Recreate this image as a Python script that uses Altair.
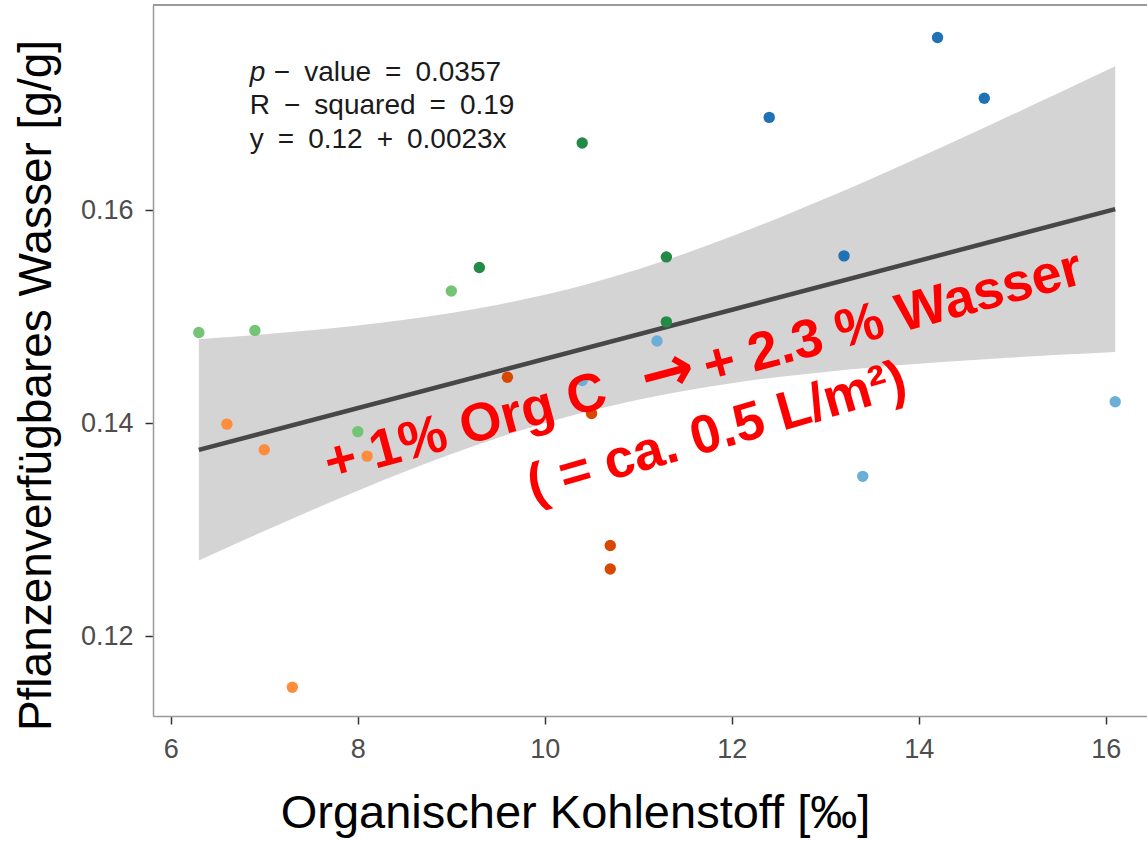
import altair as alt
import pandas as pd

# ---- data ----
org_c = [6.3, 6.9, 9.0, 8.0,
         10.4, 9.3, 11.3, 11.3,
         6.6, 7.0, 8.1, 7.3,
         9.6, 10.7, 10.7, 10.5,
         11.2, 13.4, 16.1, 10.4,
         14.2, 14.7, 12.4, 13.2]
water = [0.1485, 0.1487, 0.1524, 0.1392,
         0.1663, 0.1546, 0.1556, 0.1495,
         0.1399, 0.1375, 0.1369, 0.1152,
         0.1443, 0.1285, 0.1263, 0.1409,
         0.1477, 0.1350, 0.1420, 0.1440,
         0.1762, 0.1705, 0.1687, 0.1557]
group = (["G1"] * 4 + ["G2"] * 4 + ["O1"] * 4 + ["O2"] * 4 + ["B1"] * 4 + ["B2"] * 4)
group_names = ["G1", "G2", "O1", "O2", "B1", "B2"]
group_colors = ["#74c476", "#238b45", "#fd8d3c", "#d94801", "#6baed6", "#2171b5"]

# fitted line (end points) and confidence band
line_x = [6.3, 16.1]
line_y = [0.13748, 0.16009]
band_x = [6.3, 6.5, 7, 7.5, 8, 8.5, 9, 9.5, 10, 10.5, 11, 11.5, 12, 12.5, 13, 13.5, 14, 14.5, 15, 15.5, 16.1]
band_lo = [0.12709, 0.12790, 0.12987, 0.13179, 0.13365, 0.13543, 0.13709, 0.13863, 0.13999, 0.14118,
           0.14220, 0.14304, 0.14374, 0.14432, 0.14480, 0.14521, 0.14557, 0.14588, 0.14616, 0.14641, 0.14668]
band_hi = [0.14787, 0.14800, 0.14833, 0.14871, 0.14916, 0.14969, 0.15033, 0.15111, 0.15204, 0.15316,
           0.15445, 0.15592, 0.15753, 0.15926, 0.16108, 0.16297, 0.16493, 0.16692, 0.16896, 0.17101, 0.17351]

x_ticks = [6, 8, 10, 12, 14, 16]
y_ticks = [0.12, 0.14, 0.16]

SP = "\u2002"
stats_lines = [f"−{SP}value{SP}={SP}0.0357", f"R{SP}−{SP}squared{SP}={SP}0.19", f"y{SP}={SP}0.12{SP}+{SP}0.0023x"]
stats_y = [0.17286, 0.16977, 0.16657]
stats_x = 6.845

note_parts = ["+ 1% Org C", "→", "+ 2.3 % Wasser", "( = ca. 0.5 L/m²)"]
note_x = [9.155, 11.315, 13.722, 11.84]
note_y = [0.13953, 0.14460, 0.14986, 0.13906]
note_angle = [345, 345, 345, 344]
note_font = ["Liberation Sans", "DejaVu Sans", "Liberation Sans", "Liberation Sans"]
note_size = [54, 64, 54, 54]

W, H = 994, 711
FONT = "Liberation Sans"

xs = alt.Scale(domain=[5.81, 16.44], nice=False, zero=False)
ys = alt.Scale(domain=[0.1125, 0.17925], nice=False, zero=False)

pts = pd.DataFrame({"x": org_c, "y": water, "g": group})
band = pd.DataFrame({"x": band_x, "lo": band_lo, "hi": band_hi})
line = pd.DataFrame({"x": line_x, "y": line_y})

x_enc = alt.X("x:Q", scale=xs,
              axis=alt.Axis(values=x_ticks, format="d", title="Organischer Kohlenstoff [‰]",
                            titleX=422, titleY=111, titleBaseline="alphabetic"))
y_enc = alt.Y("y:Q", scale=ys,
              axis=alt.Axis(values=y_ticks, format=".2f", title="Pflanzenverfügbares Wasser [g/g]",
                            titleX=-103, titleY=380, titleBaseline="alphabetic", titleAngle=270,
                            titleFontSize=46))

band_layer = alt.Chart(band).mark_area(color="#d4d4d4", opacity=1, clip=True,
                                       interpolate="monotone").encode(
    x=x_enc, y=alt.Y("lo:Q", scale=ys), y2="hi:Q")

line_layer = alt.Chart(line).mark_line(color="#474747", strokeWidth=4.5, clip=True).encode(
    x=alt.X("x:Q", scale=xs), y=alt.Y("y:Q", scale=ys))

pt_layer = alt.Chart(pts).mark_circle(size=130, opacity=1).encode(
    x=alt.X("x:Q", scale=xs),
    y=y_enc,
    color=alt.Color("g:N", scale=alt.Scale(domain=group_names, range=group_colors), legend=None))

top_rule = alt.Chart(pts).mark_rule(color="#9a9a9a", strokeWidth=1.5).encode(
    x=alt.value(0), x2=alt.value(W), y=alt.value(0))

stats_df = pd.DataFrame({"x": [stats_x] * 3, "y": stats_y, "t": stats_lines})
p_df = pd.DataFrame({"x": [stats_x], "y": [stats_y[0]], "t": ["p"]})

p_layer = alt.Chart(p_df).mark_text(align="left", baseline="middle", font=FONT, fontSize=28,
                                    fontStyle="italic", color="#1a1a1a").encode(
    x=alt.X("x:Q", scale=xs), y=alt.Y("y:Q", scale=ys), text="t:N")
stats_first = alt.Chart(stats_df.iloc[[0]]).mark_text(align="left", baseline="middle", font=FONT,
                                                      fontSize=28, dx=24, color="#1a1a1a").encode(
    x=alt.X("x:Q", scale=xs), y=alt.Y("y:Q", scale=ys), text="t:N")
stats_rest = alt.Chart(stats_df.iloc[1:]).mark_text(align="left", baseline="middle", font=FONT,
                                                    fontSize=28, color="#1a1a1a").encode(
    x=alt.X("x:Q", scale=xs), y=alt.Y("y:Q", scale=ys), text="t:N")

note_layers = []
for t, nx, ny, a, f, s in zip(note_parts, note_x, note_y, note_angle, note_font, note_size):
    d = pd.DataFrame({"x": [nx], "y": [ny], "t": [t]})
    note_layers.append(
        alt.Chart(d).mark_text(align="center", baseline="middle", font=f, fontSize=s,
                               fontWeight="bold", color="#ff0000", angle=a).encode(
            x=alt.X("x:Q", scale=xs), y=alt.Y("y:Q", scale=ys), text="t:N"))

chart = alt.layer(band_layer, line_layer, pt_layer, top_rule, p_layer, stats_first, stats_rest,
                  *note_layers).properties(
    width=W, height=H,
    autosize=alt.AutoSizeParams(type="none"),
    padding={"left": 153, "top": 5, "right": 0, "bottom": 125},
    background="white",
).configure_view(stroke=None).configure_axis(
    grid=False,
    domainColor="#9a9a9a", domainWidth=1.5,
    tickColor="#333333", tickSize=8, tickWidth=1.5,
    labelFont=FONT, labelFontSize=27, labelColor="#4d4d4d",
    titleFont=FONT, titleFontSize=47, titleFontWeight="normal", titleColor="#000000",
).configure_axisY(labelPadding=12).configure_axisX(labelPadding=12)

chart.save("out.html", embed_options={"renderer": "svg", "actions": False})
